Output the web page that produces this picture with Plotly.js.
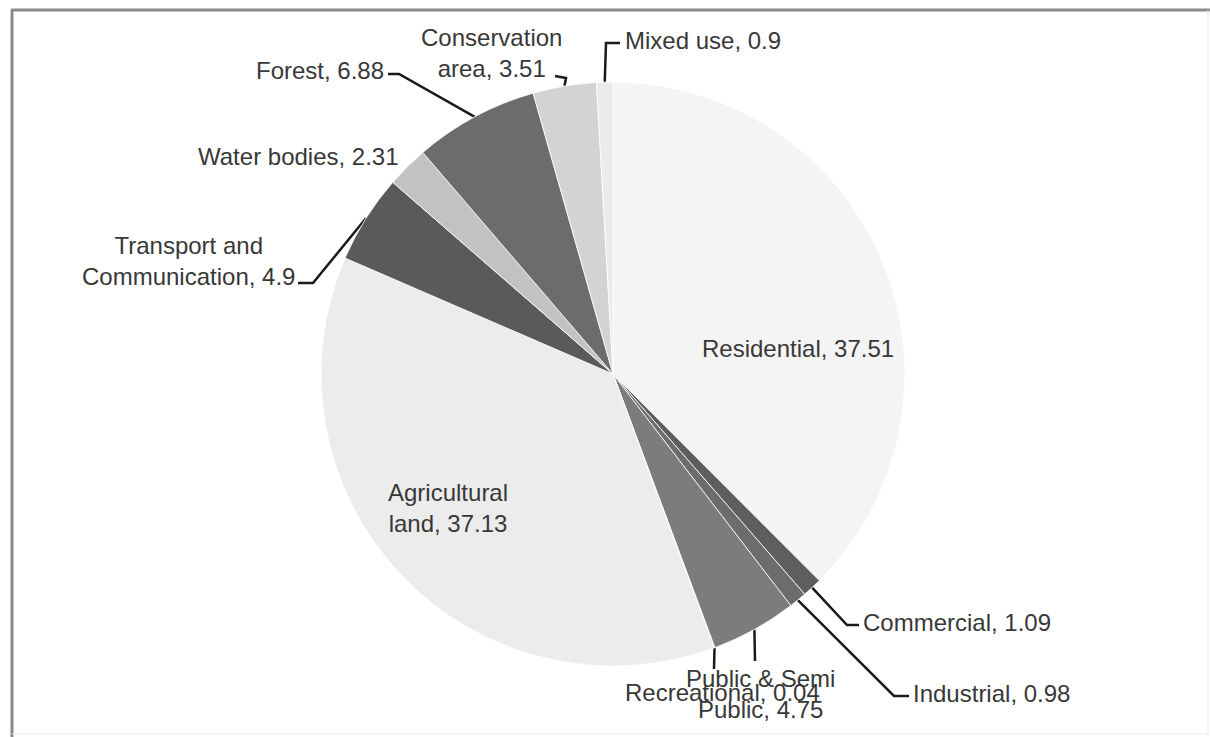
<!DOCTYPE html>
<html>
<head>
<meta charset="utf-8">
<script src="https://cdn.plot.ly/plotly-3.0.1.min.js"></script>
<style>
  html, body { margin: 0; padding: 0; background: #ffffff; }
  #chart { width: 1210px; height: 737px; }
</style>
</head>
<body>
<div id="chart"></div>
<script>
// Land use shares (%), listed clockwise from 12 o'clock
const categories = [
  "Residential", "Commercial", "Industrial", "Public & Semi Public",
  "Recreational", "Agricultural land", "Transport and Communication",
  "Water bodies", "Forest", "Conservation area", "Mixed use"
];
const shares = [37.51, 1.09, 0.98, 4.75, 0.04, 37.13, 4.9, 2.31, 6.88, 3.51, 0.9];
const sliceColors = [
  "#f4f4f4", "#5e5e5e", "#6c6c6c", "#7c7c7c", "#8a8a8a", "#ececec",
  "#5a5a5a", "#c2c2c2", "#6c6c6c", "#d3d3d3", "#ebebeb"
];

const W = 1210, H = 737;
const CX = 613, CY = 374, R = 292;   // pie centre and radius in pixels

// Label layout: how each label is written and where it sits.
// lines: how the label text is broken; x/y: label anchor; anchor: text alignment;
// path: bend points of the leader line after the rim point, ending at the label.
const labelLayout = {
  "Residential":                 { lines: ["Residential, {v}"], x: 798, y: 348, anchor: "center" },
  "Agricultural land":           { lines: ["Agricultural", "land, {v}"], x: 448, y: 508, anchor: "center" },
  "Commercial":                  { lines: ["Commercial, {v}"], x: 861, y: 622, anchor: "left",
                                   path: [[847, 625], [859, 625]] },
  "Industrial":                  { lines: ["Industrial, {v}"], x: 911, y: 693, anchor: "left",
                                   path: [[894, 696], [909, 696]] },
  "Public & Semi Public":        { lines: ["Public & Semi", "Public, {v}"], x: 760, y: 694, anchor: "center",
                                   path: [[755, 661]] },
  "Recreational":                { lines: ["Recreational, {v}"], x: 722, y: 692, anchor: "center",
                                   path: [[714, 669]] },
  "Transport and Communication": { lines: ["Transport and", "Communication, {v}"], x: 188, y: 261, anchor: "center",
                                   path: [[313, 283], [298, 283]] },
  "Water bodies":                { lines: ["Water bodies, {v}"], x: 401, y: 156, anchor: "right" },
  "Forest":                      { lines: ["Forest, {v}"], x: 386, y: 70, anchor: "right",
                                   path: [[399, 74], [388, 74]] },
  "Conservation area":           { lines: ["Conservation", "area, {v}"], x: 491, y: 53, anchor: "center",
                                   path: [[566, 78], [555, 76]] },
  "Mixed use":                   { lines: ["Mixed use, {v}"], x: 623, y: 40, anchor: "left",
                                   path: [[606, 43], [620, 43]] }
};

const FONT = "Liberation Sans, Arial, sans-serif";
const TEXT_COLOR = "#383838";

const traces = [{
  type: "pie",
  labels: categories,
  values: shares,
  sort: false,
  direction: "clockwise",
  rotation: 0,
  textinfo: "none",
  hoverinfo: "label+value",
  showlegend: false,
  marker: { colors: sliceColors, line: { color: "#ffffff", width: 0.8 } },
  domain: {
    x: [(CX - R) / W, (CX + R) / W],
    y: [1 - (CY + R) / H, 1 - (CY - R) / H]
  }
}];

// Leader lines start on the rim at each slice's mid-angle
const total = shares.reduce((a, b) => a + b, 0);
let cum = 0;
const annotations = [];
categories.forEach((name, i) => {
  const mid = (cum + shares[i] / 2) / total * 2 * Math.PI;
  cum += shares[i];
  const spec = labelLayout[name];
  if (spec.path) {
    const rimX = CX + R * Math.sin(mid);
    const rimY = CY - R * Math.cos(mid);
    const xs = [rimX].concat(spec.path.map(p => p[0]));
    const ys = [rimY].concat(spec.path.map(p => p[1]));
    traces.push({
      type: "scatter", mode: "lines", x: xs, y: ys,
      xaxis: "x", yaxis: "y", hoverinfo: "skip", showlegend: false,
      line: { color: "#1a1a1a", width: 2.5 }
    });
  }
  annotations.push({
    xref: "x", yref: "y", x: spec.x, y: spec.y,
    text: spec.lines.map(l => l.replace("{v}", String(shares[i]))).join("<br>"),
    showarrow: false, xanchor: spec.anchor, yanchor: "middle",
    align: spec.anchor === "right" ? "right" : (spec.anchor === "left" ? "left" : "center"),
    font: { family: FONT, size: 24, color: TEXT_COLOR }
  });
});

// Frame around the chart area
const shapes = [
  { type: "line", xref: "x", yref: "y", x0: 12, y0: 10, x1: 12, y1: 737, line: { color: "#8a8a8a", width: 3 } },
  { type: "line", xref: "x", yref: "y", x0: 11, y0: 10, x1: 1210, y1: 10, line: { color: "#8a8a8a", width: 3 } },
  { type: "line", xref: "x", yref: "y", x0: 1208, y0: 10, x1: 1208, y1: 735, line: { color: "#e6e6e6", width: 1 } },
  { type: "line", xref: "x", yref: "y", x0: 12, y0: 734, x1: 1208, y1: 734, line: { color: "#ececec", width: 1 } }
];

const layout = {
  width: W, height: H,
  margin: { l: 0, r: 0, t: 0, b: 0 },
  paper_bgcolor: "#ffffff", plot_bgcolor: "rgba(0,0,0,0)",
  xaxis: { range: [0, W], visible: false, fixedrange: true },
  yaxis: { range: [H, 0], visible: false, fixedrange: true },
  showlegend: false,
  annotations: annotations,
  shapes: shapes
};

Plotly.newPlot("chart", traces, layout, { displayModeBar: false, staticPlot: true });
</script>
</body>
</html>
